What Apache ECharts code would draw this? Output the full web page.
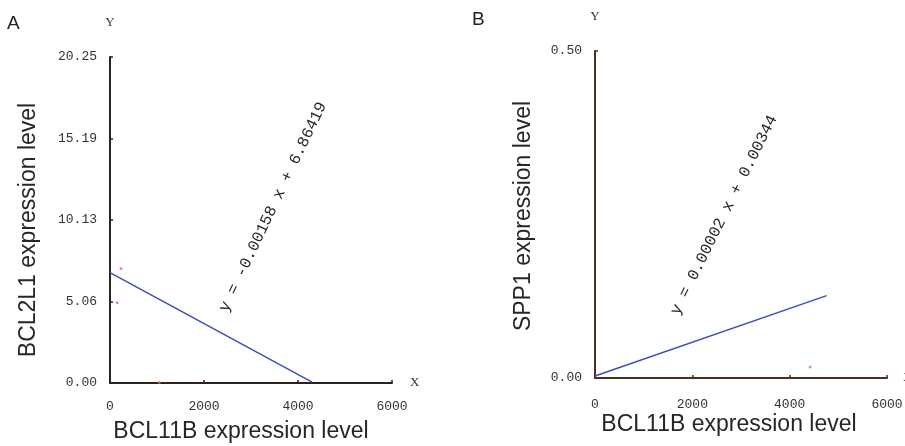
<!DOCTYPE html>
<html>
<head>
<meta charset="utf-8">
<script src="https://cdn.jsdelivr.net/npm/echarts@6/dist/echarts.min.js"></script>
<style>html,body{margin:0;padding:0;background:#fff;}#c{width:905px;height:446px;}</style>
</head>
<body>
<div id="c"></div>
<script>
// ---- data ----
const xTicks = ['0', '2000', '4000', '6000'];
const yTicksA = ['0.00', '5.06', '10.13', '15.19', '20.25'];
const yTicksB = ['0.00', '0.50'];
const fitLineA = [[0, 6.86], [4300, 0.05]];
const pointsA = [[234, 7.12], [155, 4.99], [1050, 0.05]];
const fitLineB = [[0, 0.003], [4760, 0.126]];
const pointsB = [[4420, 0.017]];
const equationA = 'y = -0.00158 x + 6.86419';
const equationB = 'y = 0.00002 x + 0.00344';
const xTitle = 'BCL11B expression level';
const yTitleA = 'BCL2L1 expression level';
const yTitleB = 'SPP1 expression level';

const chart = echarts.init(document.getElementById('c'), null, {renderer: 'canvas'});
const tickFont = {fontFamily: 'Liberation Mono', fontSize: 13, color: '#333'};

function xAxis(gi, color, margin, nameGap) {
  return {
    type: 'value', gridIndex: gi, min: 0, max: 6000, interval: 2000,
    name: 'X', nameLocation: 'end', nameGap: nameGap,
    nameTextStyle: {fontFamily: 'Liberation Serif', fontSize: 13, color: '#333', verticalAlign: 'middle'},
    axisLine: {show: true, lineStyle: {color: color, width: 2}},
    axisTick: {show: true, inside: true, length: 3, lineStyle: {color: color, width: 1.5}},
    splitLine: {show: false},
    axisLabel: Object.assign({margin: margin, formatter: v => xTicks[Math.round(v / 2000)]}, tickFont)
  };
}
function yAxis(gi, color, max, interval, labels) {
  return {
    type: 'value', gridIndex: gi, min: 0, max: max, interval: interval,
    name: 'Y', nameLocation: 'end', nameGap: 28,
    nameTextStyle: {fontFamily: 'Liberation Serif', fontSize: 13, color: '#333', align: 'center'},
    axisLine: {show: true, lineStyle: {color: color, width: 2}},
    axisTick: {show: true, inside: true, length: 3, lineStyle: {color: color, width: 1.5}},
    splitLine: {show: false},
    axisLabel: Object.assign({margin: 13, formatter: v => labels[Math.round(v / interval)]}, tickFont)
  };
}

const titleStyle = {fontFamily: 'Liberation Sans', fontSize: 23, fill: '#262626'};
const eqStyle = {fontFamily: 'Liberation Mono', fontSize: 16, fill: '#262626'};

chart.setOption({
  animation: false,
  backgroundColor: '#fff',
  grid: [
    {left: 110, top: 57, width: 282, height: 326, containLabel: false, outerBoundsMode: 'none'},
    {left: 595, top: 51, width: 292, height: 327, containLabel: false, outerBoundsMode: 'none'}
  ],
  xAxis: [xAxis(0, '#2e221c', 17, 18), xAxis(1, '#4e2e20', 20, 16)],
  yAxis: [yAxis(0, '#2e221c', 20.25, 5.0625, yTicksA), yAxis(1, '#4e2e20', 0.5, 0.5, yTicksB)],
  series: [
    {type: 'line', xAxisIndex: 0, yAxisIndex: 0, data: fitLineA, showSymbol: false,
     lineStyle: {color: '#3c4cc4', width: 1.5}},
    {type: 'scatter', xAxisIndex: 0, yAxisIndex: 0, data: pointsA, symbolSize: 3,
     itemStyle: {color: '#e0785a'}},
    {type: 'line', xAxisIndex: 1, yAxisIndex: 1, data: fitLineB, showSymbol: false,
     lineStyle: {color: '#3c4cc4', width: 1.5}},
    {type: 'scatter', xAxisIndex: 1, yAxisIndex: 1, data: pointsB, symbolSize: 3,
     itemStyle: {color: '#e0785a'}}
  ],
  graphic: [
    {type: 'text', x: 7, y: 24, style: {text: 'A', fontFamily: 'Liberation Sans', fontSize: 19, fill: '#222', verticalAlign: 'middle'}},
    {type: 'text', x: 472, y: 20, style: {text: 'B', fontFamily: 'Liberation Sans', fontSize: 19, fill: '#222', verticalAlign: 'middle'}},
    {type: 'text', x: 241, y: 432, style: Object.assign({text: xTitle, align: 'center', verticalAlign: 'middle'}, titleStyle)},
    {type: 'text', x: 729, y: 425, style: Object.assign({text: xTitle, align: 'center', verticalAlign: 'middle'}, titleStyle)},
    {type: 'text', x: 29, y: 230, rotation: Math.PI / 2, style: Object.assign({text: yTitleA, align: 'center', verticalAlign: 'middle'}, titleStyle)},
    {type: 'text', x: 524, y: 216, rotation: Math.PI / 2, style: Object.assign({text: yTitleB, align: 'center', verticalAlign: 'middle'}, titleStyle)},
    {type: 'text', x: 273, y: 207, rotation: 64.5 * Math.PI / 180, style: Object.assign({text: equationA, align: 'center', verticalAlign: 'middle'}, eqStyle)},
    {type: 'text', x: 724, y: 215, rotation: 63.5 * Math.PI / 180, style: Object.assign({text: equationB, align: 'center', verticalAlign: 'middle'}, eqStyle)}
  ]
});
</script>
</body>
</html>
